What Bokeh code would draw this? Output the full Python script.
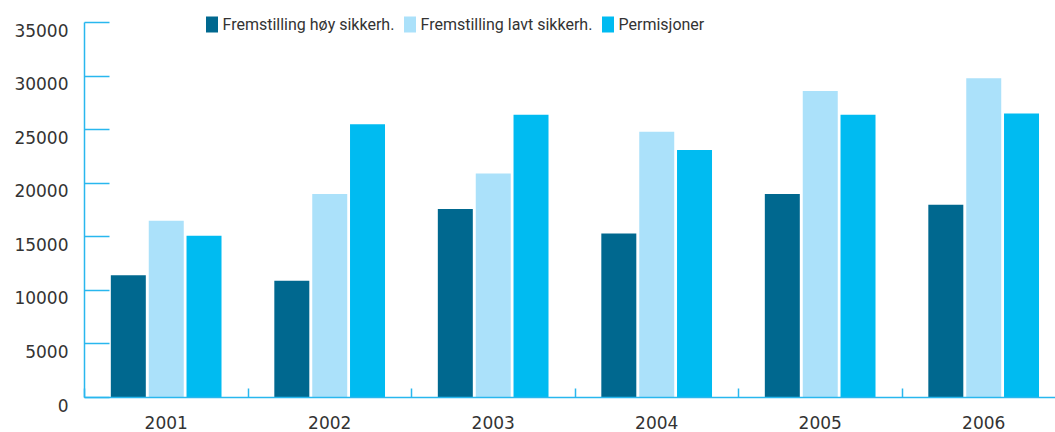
from bokeh.plotting import figure
from bokeh.models import Range1d, FixedTicker, Legend, LegendItem, Label
from bokeh.embed import file_html
from bokeh.resources import INLINE

years = ["2001", "2002", "2003", "2004", "2005", "2006"]
hoy = [11400, 10900, 17600, 15300, 19000, 18000]
lavt = [16500, 19000, 20900, 24800, 28600, 29800]
perm = [15100, 25500, 26400, 23100, 26400, 26500]
series_names = ["Fremstilling høy sikkerh.", "Fremstilling lavt sikkerh.", "Permisjoner"]
y_ticks = [0, 5000, 10000, 15000, 20000, 25000, 30000, 35000]
y_labels = [str(t) for t in y_ticks]
y_max = 35000

colors = ["#00688f", "#abe1fa", "#00bbf1"]
axis_color = "#29b7ee"
text_color = "#333333"

centers = [i + 0.5 for i in range(len(years))]

# layout (pixels): the frame fills the canvas; y axis at x=84px, x axis at y=397px,
# 35000 at y=22px; one year group is 163.5px wide
W, H = 1055, 432
axis_px, base_px, top_px = 84, 397, 22
group_px = 163.5
unit_px = (base_px - top_px) / y_max
x_start = -axis_px / group_px
x_end = (W - axis_px) / group_px
y_start = -(H - base_px) / unit_px
y_end = y_max + top_px / unit_px

p = figure(width=W, height=H, output_backend="svg", toolbar_location=None,
           x_range=Range1d(x_start, x_end), y_range=Range1d(y_start, y_end),
           min_border=0)
p.outline_line_color = None
p.xgrid.visible = False
p.ygrid.visible = False
p.background_fill_color = "white"

offsets = [-0.232, 0.0, 0.231]
renderers = []
for vals, off, col in zip([hoy, lavt, perm], offsets, colors):
    r = p.vbar(x=[c + off for c in centers], top=vals, width=0.214,
               fill_color=col, line_color=None)
    renderers.append(r)

# x axis at y = 0
xa = p.xaxis[0]
xa.fixed_location = 0
xa.bounds = (0, x_end)
xa.ticker = FixedTicker(ticks=centers, minor_ticks=list(range(len(years) + 1)))
xa.major_label_overrides = {c: y for c, y in zip(centers, years)}
xa.major_tick_in = 0
xa.major_tick_out = 0
xa.minor_tick_in = 9
xa.minor_tick_out = 0
xa.minor_tick_line_color = axis_color
xa.minor_tick_line_width = 1.5
xa.axis_line_color = axis_color
xa.axis_line_width = 1.5
xa.major_label_standoff = 18
xa.major_label_text_font = "DejaVu Sans"
xa.major_label_text_font_size = "17px"
xa.major_label_text_color = text_color

# y axis at x = 0; tick marks only (labels are placed below their ticks)
ya = p.yaxis[0]
ya.fixed_location = 0
ya.ticker = FixedTicker(ticks=[], minor_ticks=y_ticks)
ya.bounds = (0, y_max)
ya.minor_tick_in = 25
ya.minor_tick_out = 0
ya.minor_tick_line_color = axis_color
ya.minor_tick_line_width = 1.5
ya.axis_line_color = axis_color
ya.axis_line_width = 1.5

for t, lab in zip(y_ticks, y_labels):
    p.add_layout(Label(x=0, y=t, text=lab, x_offset=-16, y_offset=-7.5,
                       text_align="right", text_baseline="middle",
                       text_font="DejaVu Sans", text_font_size="17px",
                       text_color=text_color))

# legends
leg_x = [205 - 1.5, 403 - 1.5, 601 - 1.5]
for name, r, lx in zip(series_names, renderers, leg_x):
    lg = Legend(items=[LegendItem(label=name, renderers=[r])],
                location=(lx, H - 34),
                orientation="horizontal", glyph_width=15, glyph_height=20,
                label_height=20, label_standoff=4, padding=0, margin=0, spacing=0,
                border_line_color=None, background_fill_alpha=0,
                label_text_font="Roboto", label_text_font_size="16px",
                label_text_color=text_color, label_text_baseline="middle")
    p.add_layout(lg)

open("out.html", "w").write(file_html(p, INLINE))
